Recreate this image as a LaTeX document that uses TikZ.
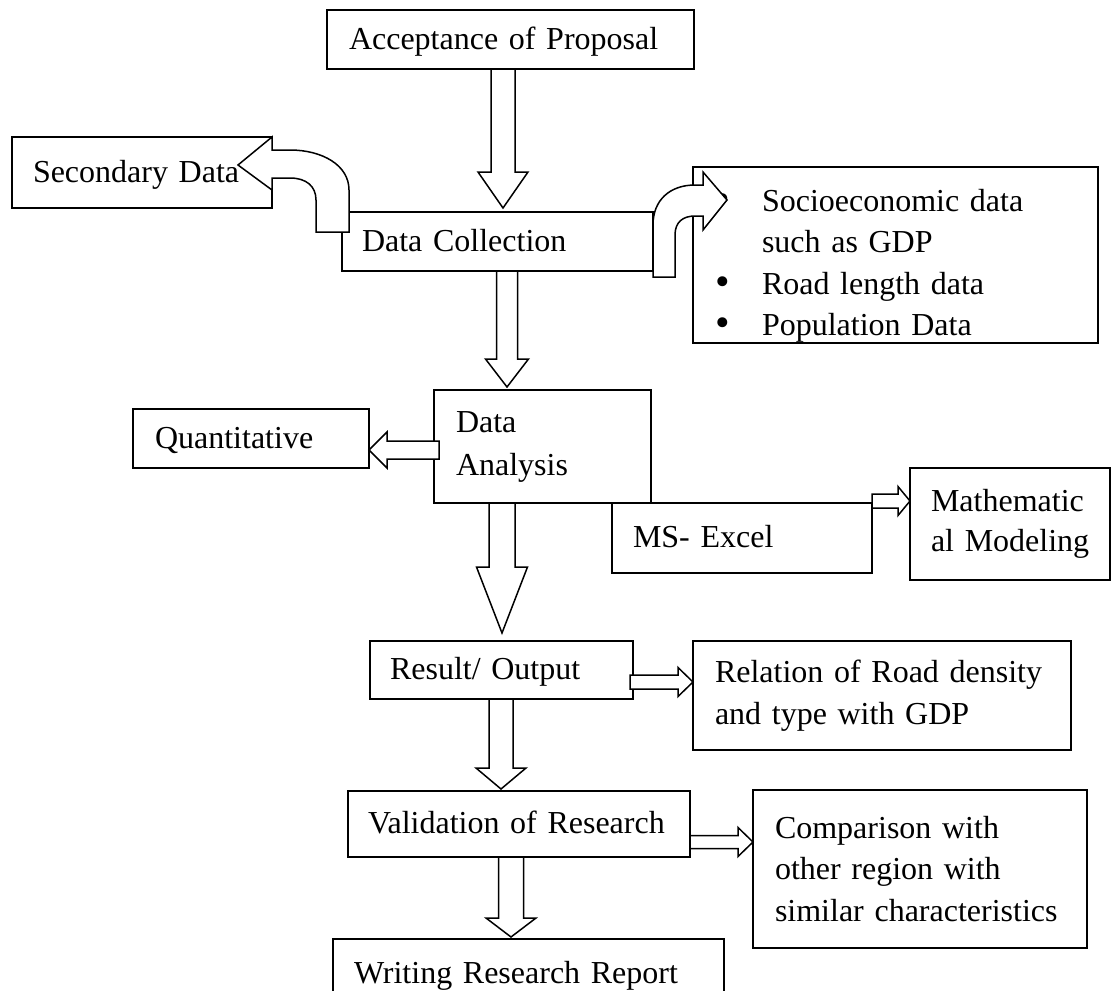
\documentclass[tikz,border=0pt]{standalone}
\usepackage{fontspec}
\usepackage{graphicx}
\setmainfont{Liberation Serif}
\usetikzlibrary{calc}
\newcommand{\fz}{\fontsize{32}{41.5}\selectfont}
\newcommand{\bul}{\makebox[48pt][l]{\hspace{1pt}\raisebox{-1pt}{\scalebox{1.3}{•}}}}
\tikzset{
  box/.style={draw, line width=1.6pt, anchor=north west, align=left, inner ysep=0pt, outer sep=0pt, font=\fz},
  one/.style={text height=24pt, text depth=5pt},
  blk/.style={draw, fill=white, line width=1.5pt, line join=miter},
}
% vertical block arrow: start, tip, shaft half width, head half width, head length
\newcommand{\vblk}[5]{%
  \draw[blk] ($#1+(-#3,0)$) -- ($#2+(-#3,-#5)$) -- ($#2+(-#4,-#5)$) -- #2 -- ($#2+(#4,-#5)$) -- ($#2+(#3,-#5)$) -- ($#1+(#3,0)$) -- cycle;}
% horizontal block arrow: start, tip, shaft half, head half, head length, direction (1 right, -1 left)
\newcommand{\hblk}[6]{%
  \draw[blk] ($#1+(0,-#3)$) -- ($#2+({-(#6)*#5},-#3)$) -- ($#2+({-(#6)*#5},-#4)$) -- #2 -- ($#2+({-(#6)*#5},#4)$) -- ($#2+({-(#6)*#5},#3)$) -- ($#1+(0,#3)$) -- cycle;}
\begin{document}
\begin{tikzpicture}[x=1pt,y=-1pt]
\path[use as bounding box] (0,0) rectangle (1112,991);
\fill[white] (0,0) rectangle (1112,991);
\clip (0,0) rectangle (1112,991);

% boxes
\node[box, one, inner xsep=22pt, text width=323pt, minimum height=59pt] (acc) at (327,10) {Acceptance of Proposal};
\node[box, one, inner xsep=21pt, text width=218pt, minimum height=71pt] (sec) at (12,137) {Secondary Data};
\node[box, one, inner xsep=20pt, text width=271pt, minimum height=59pt] (coll) at (342,212) {Data Collection};
\node[box, inner xsep=21pt, text width=363pt, minimum height=176pt] (socio) at (693,167)
  {\rule{0pt}{44pt}\bul Socioeconomic data\\
   \makebox[48pt][l]{}such as GDP\\
   \bul Road length data\\
   \bul Population Data};
\node[box, inner xsep=22pt, text width=173pt, minimum height=113pt, font={\fontsize{32}{43}\selectfont}] (ana) at (434,390) {Data\\Analysis};
\node[box, one, inner xsep=22pt, text width=192pt, minimum height=59pt] (quant) at (133,409) {Quantitative};
\node[box, one, inner xsep=21pt, text width=218pt, minimum height=70pt] (excel) at (612,503) {MS- Excel};
\node[box, inner xsep=21pt, text width=158pt, minimum height=112pt, font={\fontsize{32}{40}\selectfont}] (math) at (910,468) {\mbox{Mathematic}\\\mbox{al Modeling}};
\node[box, one, inner xsep=20pt, text width=223pt, minimum height=58pt] (res) at (370,641) {Result/ Output};
\node[box, inner xsep=22pt, text width=334pt, minimum height=109pt, font={\fontsize{32}{42}\selectfont}] (rel) at (693,641)
  {\makebox[334pt][s]{Relation of Road density}\\and type with GDP};
\node[box, one, inner xsep=20pt, text width=302pt, minimum height=66pt] (val) at (348,791) {Validation of Research};
\node[box, inner xsep=22pt, text width=290pt, minimum height=158pt] (comp) at (753,790) {Comparison with\\other region with\\similar characteristics};
\node[box, one, inner xsep=21pt, text width=349pt, minimum height=70pt] (wri) at (333,939) {Writing Research Report};

% tip coordinates
\coordinate (t1) at ($(503,0 |- coll.north)+(0,-4)$);
\coordinate (t2) at ($(507,0 |- ana.north)+(0,-3)$);
\coordinate (t3) at ($(502,0 |- res.north)+(0,-8)$);
\coordinate (t4) at ($(501,0 |- val.north)+(0,-2)$);
\coordinate (t5) at ($(511,0 |- wri.north)+(0,-2)$);
\coordinate (h1s) at ($(ana.west |- 0,450)+(5,0)$);
\coordinate (h3s) at ($(res.east |- 0,682)+(-3,0)$);

% vertical block arrows
\vblk{(503,0 |- acc.south)}{(t1)}{12}{25}{36}
\vblk{(507,0 |- coll.south)}{(t2)}{10.5}{21.5}{28}
\vblk{(502,0 |- ana.south)}{(t3)}{13}{25.5}{66}
\vblk{(501,0 |- res.south)}{(t4)}{12}{25}{21}
\vblk{(511,0 |- val.south)}{(t5)}{12.5}{25}{19}

% horizontal block arrows
\hblk{(h1s)}{(quant.east |- 0,450)}{9}{18}{18}{-1}
\hblk{(excel.east |- 0,501)}{(math.west |- 0,501)}{7}{14.5}{12}{1}
\hblk{(h3s)}{(rel.west |- 0,682)}{7}{14.5}{15}{1}
\hblk{(val.east |- 0,842)}{(comp.west |- 0,842)}{6.5}{14.5}{15}{1}

% curved block arrows
\draw[blk] (349,232) -- (349,190) .. controls (349,165) and (322,150) .. (290,150)
  -- (sec.east |- 0,150) -- (sec.north east) -- (238,165) -- (sec.east |- 0,190)
  -- (sec.east |- 0,178) -- (290,178) .. controls (306,178) and (316,186) .. (316,200)
  -- (316,232) -- cycle;
\draw[blk] (coll.east |- 0,277) -- (coll.east |- 0,225) .. controls (653,200) and (670,185) .. (695,185)
  -- (703,185) -- (703,172) -- (727,200) -- (703,230) -- (703,216) -- (695,216)
  .. controls (683,216) and (675,222) .. (675,235) -- (675,277) -- cycle;
\end{tikzpicture}
\end{document}
